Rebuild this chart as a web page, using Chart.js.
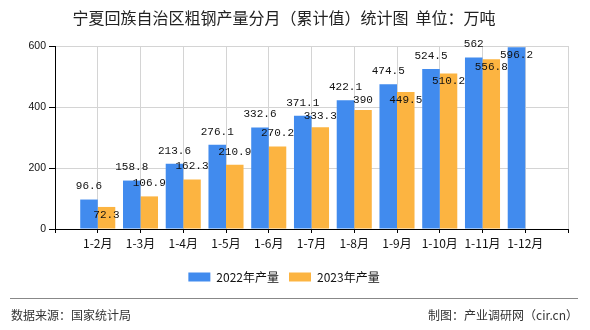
<!DOCTYPE html>
<html>
<head>
<meta charset="utf-8">
<script src="https://cdn.jsdelivr.net/npm/chart.js@4.4.1/dist/chart.umd.min.js"></script>
<style>
  body { margin: 0; background: #fff; }
  canvas { display: block; }
</style>
</head>
<body>
<canvas id="chart-id" width="590" height="330"></canvas>
<script>
// categories (empty slots at both ends keep the axis padding of the original)
const labels = ['', '1-2月', '1-3月', '1-4月', '1-5月', '1-6月', '1-7月', '1-8月', '1-9月', '1-10月', '1-11月', '1-12月', ''];
const output2022 = [null, 96.6, 158.8, 213.6, 276.1, 332.6, 371.1, 422.1, 474.5, 524.5, 562, 596.2, null];
const output2023 = [null, 72.3, 106.9, 162.3, 210.9, 270.2, 333.3, 390, 449.5, 510.2, 556.8, null, null];
const yTicks = [0, 200, 400, 600];

const CJK = "'Noto Sans CJK SC', 'Liberation Sans', sans-serif";

// value labels above the bars, pushed down / inside when they collide
const valueLabels = {
  id: 'valueLabels',
  afterDatasetsDraw(chart) {
    const ctx = chart.ctx;
    const area = chart.chartArea;
    const m0 = chart.getDatasetMeta(0);
    const m1 = chart.getDatasetMeta(1);
    ctx.save();
    ctx.font = "11px 'Liberation Mono', monospace";
    ctx.fillStyle = '#111';
    ctx.textAlign = 'center';
    ctx.textBaseline = 'middle';
    labels.forEach((l, i) => {
      let blueY = null, blueX = null, blueW = 0;
      const v0 = output2022[i];
      if (v0 != null) {
        const el = m0.data[i];
        let y = el.y - 13;
        if (y - 6 < area.top - 12) y = el.y + 8;
        blueY = y; blueX = el.x;
        blueW = ctx.measureText(String(v0)).width;
        ctx.fillText(String(v0), el.x, y);
      }
      const v1 = output2023[i];
      if (v1 != null) {
        const el = m1.data[i];
        let y = el.y - 13;
        const w = ctx.measureText(String(v1)).width;
        if (y - 6 < area.top - 12) {
          y = el.y + 8;
        } else if (blueY != null && Math.abs(el.x - blueX) < (w + blueW) / 2) {
          const diff = y - blueY;
          if (diff < 9) y = el.y + 8;
          else if (diff < 12) y = blueY + 13;
        }
        ctx.fillText(String(v1), el.x, y);
      }
    });
    ctx.restore();
  }
};

// separator and source lines under the legend
const footer = {
  id: 'footer',
  afterDraw(chart) {
    const ctx = chart.ctx;
    ctx.save();
    ctx.strokeStyle = '#888';
    ctx.lineWidth = 1;
    ctx.beginPath();
    ctx.moveTo(10, 298.5);
    ctx.lineTo(578, 298.5);
    ctx.stroke();
    ctx.font = '12px ' + CJK;
    ctx.fillStyle = '#333';
    ctx.textBaseline = 'middle';
    ctx.textAlign = 'left';
    ctx.fillText('数据来源：国家统计局', 11, 315);
    ctx.textAlign = 'right';
    ctx.fillText('制图：产业调研网（cir.cn）', 578, 315);
    ctx.restore();
  }
};

const data = {
  labels: labels,
  datasets: [
    {
      label: '2022年产量',
      data: output2022,
      backgroundColor: '#418bee',
      categoryPercentage: 0.82,
      barPercentage: 1.0,
    },
    {
      label: '2023年产量',
      data: output2023,
      backgroundColor: '#fcb441',
      categoryPercentage: 0.82,
      barPercentage: 1.0,
    },
  ],
};

const config = {
  type: 'bar',
  data: data,
  plugins: [valueLabels, footer],
  options: {
    responsive: false,
    animation: false,
    devicePixelRatio: 1,
    layout: { padding: { left: 0, right: 22, top: 0, bottom: 37 } },
    plugins: {
      tooltip: { enabled: false },
      title: {
        display: true,
        text: '宁夏回族自治区粗钢产量分月（累计值）统计图  单位：万吨',
        color: '#222',
        font: { family: CJK, size: 16, weight: 'normal' },
        padding: { top: 8, bottom: 18.8 },
      },
      legend: {
        position: 'bottom',
        labels: {
          boxWidth: 22,
          boxHeight: 9,
          padding: 10,
          color: '#111',
          font: { family: CJK, size: 12 },
        },
      },
    },
    scales: {
      x: {
        offset: false,
        afterFit(scale) { scale.height = 32; },
        grid: { offset: false, color: '#d4d4d4', tickColor: '#000', tickLength: 4 },
        border: { color: '#000' },
        ticks: {
          autoSkip: false,
          maxRotation: 0,
          padding: 3,
          color: '#111',
          font: { family: CJK, size: 12 },
        },
      },
      y: {
        min: 0,
        max: 600,
        afterFit(scale) { scale.width = 55; },
        afterBuildTicks(scale) { scale.ticks = yTicks.map(v => ({ value: v })); },
        grid: { color: '#d4d4d4', tickColor: '#000', tickLength: 6 },
        border: { color: '#000' },
        ticks: {
          padding: 3,
          color: '#111',
          font: { family: "'Liberation Sans', sans-serif", size: 10.5 },
        },
      },
    },
  },
};

let myChart = new Chart(document.getElementById('chart-id'), config);
</script>
</body>
</html>
